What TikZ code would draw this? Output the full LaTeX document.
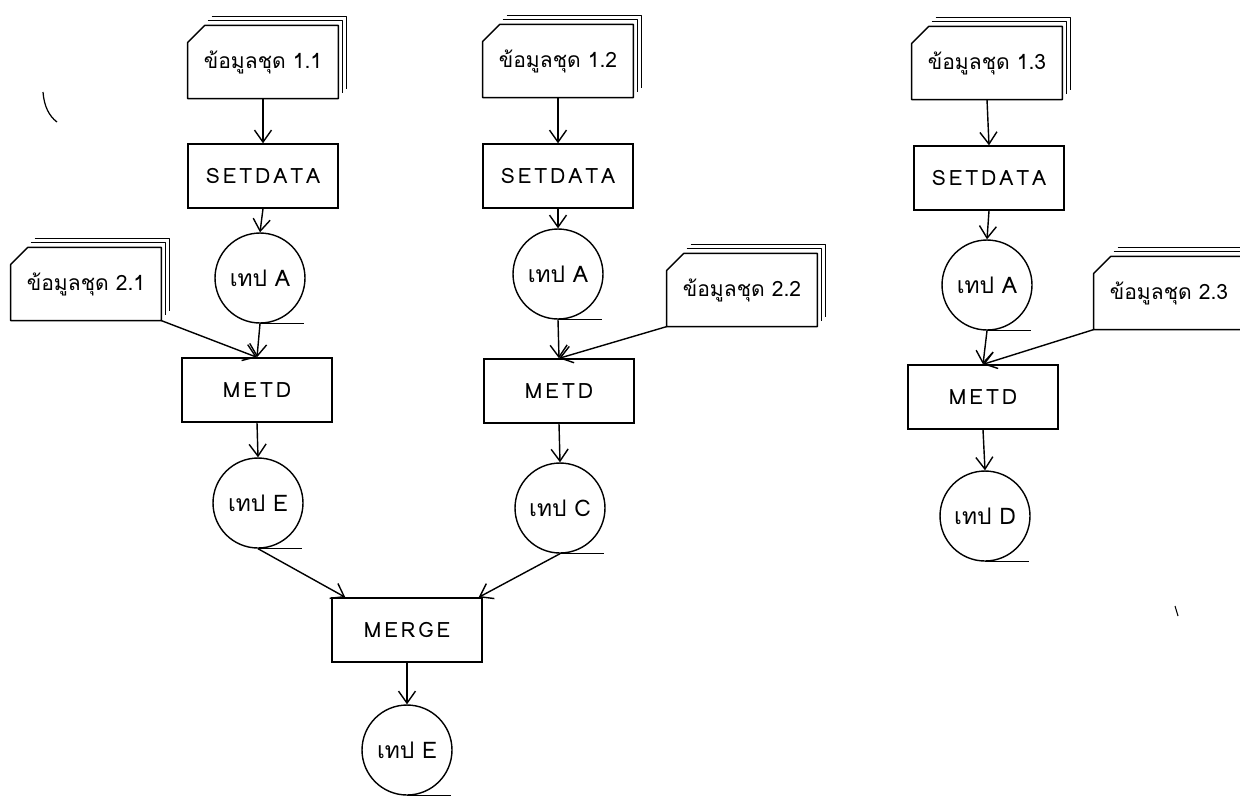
\documentclass[tikz,border=0pt]{standalone}
\usepackage{fontspec}
\newfontfamily\thaifont[Script=Thai]{Loma}
\usetikzlibrary{arrows.meta, calc}

\begin{document}
\begin{tikzpicture}[
  x=0.02cm, y=-0.02cm,
  font=\thaifont\fontsize{12}{14}\selectfont,
  card/.style  = {line width=0.8pt, line join=round},
  deck/.style  = {minimum width=3cm, minimum height=1.45cm, inner sep=0pt},
  prog/.style  = {draw, minimum width=3cm, minimum height=1.28cm,
                  line width=0.8pt,
                  font=\thaifont\fontsize{12}{14}\selectfont\addfontfeature{LetterSpace=14}},
  tape/.style  = {draw, circle, minimum size=1.8cm, inner sep=0pt,
                  line width=0.8pt, font=\thaifont\fontsize{13}{15}\selectfont},
  arr/.style   = {-{Straight Barb[length=2.4mm, width=3.4mm]}, line width=0.8pt},
]
\useasboundingbox (0,0) rectangle (1240,806);

%% Card decks
\node[deck] (d11) at (263, 62)  {ข้อมูลชุด 1.1};
\node[deck] (d12) at (558, 61)  {ข้อมูลชุด 1.2};
\node[deck] (d13) at (987, 63)  {ข้อมูลชุด 1.3};
\node[deck] (d21) at (86, 284)  {ข้อมูลชุด 2.1};
\node[deck] (d22) at (742, 290) {ข้อมูลชุด 2.2};
\node[deck] (d23) at (1169, 293) {ข้อมูลชุด 2.3};

\foreach \d in {d11, d12, d13, d21, d22, d23} {
  \draw[card] ($(\d.north west)+(0,17)$) -- ($(\d.north west)+(17,0)$)
    -- (\d.north east) -- (\d.south east) -- (\d.south west) -- cycle;
  \draw[card] ($(\d.north west)+(20,-5)$) -- ($(\d.north east)+(4,-5)$)
    -- ($(\d.south east)+(4,-6)$);
  \draw[card] ($(\d.north west)+(24,-9)$) -- ($(\d.north east)+(8,-9)$)
    -- ($(\d.south east)+(8,-10)$);
}

%% Programs
\node[prog] (s1) at (263, 176) {SETDATA};
\node[prog] (s2) at (558, 176) {SETDATA};
\node[prog] (s3) at (989, 178) {SETDATA};
\node[prog] (m1) at (257, 390) {METD};
\node[prog] (m2) at (559, 391) {METD};
\node[prog] (m3) at (983, 397) {METD};
\node[prog] (mg) at (407, 630) {MERGE};

%% Tapes
\node[tape] (t1a) at (260, 278) {เทป A};
\node[tape] (t2a) at (558, 274) {เทป A};
\node[tape] (t3a) at (987, 285) {เทป A};
\node[tape] (t1e) at (258, 503) {เทป E};
\node[tape] (t2c) at (560, 508) {เทป C};
\node[tape] (t3d) at (985, 516) {เทป D};
\node[tape] (te)  at (407, 750) {เทป E};

\foreach \t in {t1a, t2a, t3a, t1e, t2c, t3d, te}
  \draw[card] (\t.south) -- ++(44,0);

%% Flow
\draw[arr] (d11.south) -- (s1.north);
\draw[arr] (d12.south) -- (s2.north);
\draw[arr] (d13.south) -- (s3.north);
\draw[arr] (s1.south) -- (t1a.north);
\draw[arr] (s2.south) -- (t2a.north);
\draw[arr] (s3.south) -- (t3a.north);

\draw[arr] (t1a.south) -- (m1.north);
\draw[arr] (t2a.south) -- (m2.north);
\draw[arr] (t3a.south) -- (m3.north);
\draw[arr] (d21.south east) -- (m1.north);
\draw[arr] (d22.south west) -- (m2.north);
\draw[arr] (d23.south west) -- (m3.north);

\draw[arr] (m1.south) -- (t1e.north);
\draw[arr] (m2.south) -- (t2c.north);
\draw[arr] (m3.south) -- (t3d.north);

\draw[arr] (t1e.south) -- ($(mg.north west)+(14,0)$);
\draw[arr] (t2c.south) -- ($(mg.north east)+(-4,0)$);
\draw[arr] (mg.south) -- (te.north);

%% pen marks
\draw[line width=0.7pt] (43,92) .. controls (44,106) and (49,116) .. (57,122);
\draw[line width=0.6pt] (1175,606) -- (1178,616);

\end{tikzpicture}
\end{document}
